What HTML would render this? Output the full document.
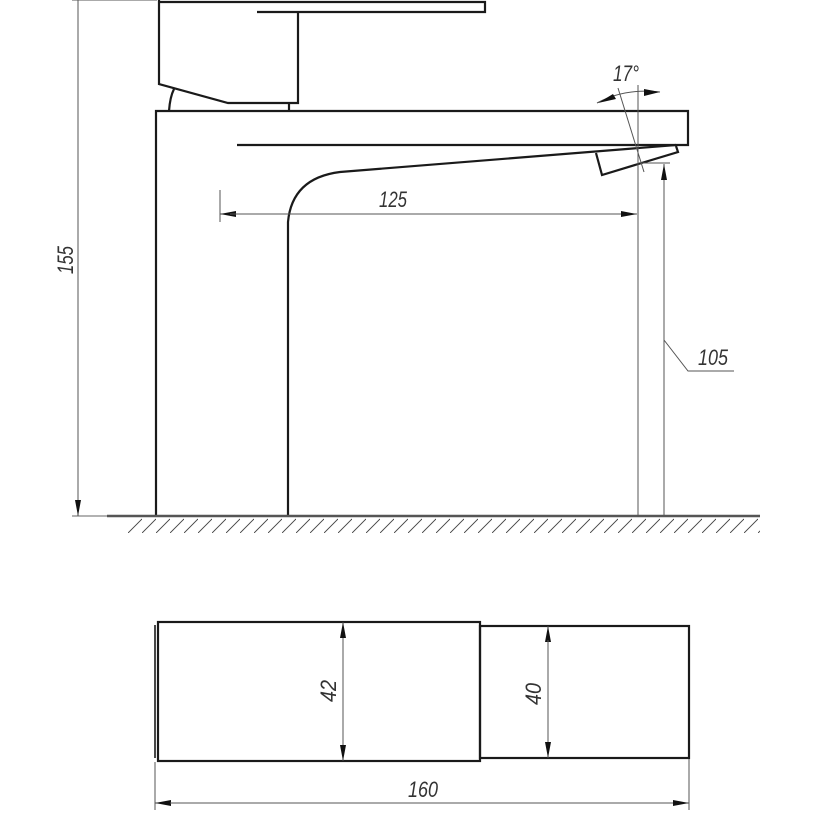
<!DOCTYPE html>
<html><head><style>html,body{margin:0;padding:0;background:#fff}svg{display:block}</style></head>
<body>
<svg width="813" height="813" viewBox="0 0 813 813" xmlns="http://www.w3.org/2000/svg">
<defs>
<marker id="a" viewBox="0 0 16 6" refX="16" refY="3" markerWidth="16" markerHeight="6" orient="auto" markerUnits="userSpaceOnUse"><path d="M0,0 L16,3 L0,6 Z" fill="#111"/></marker>
<pattern id="h" width="14" height="16" patternUnits="userSpaceOnUse" x="128" y="518"><line x1="0" y1="15" x2="14" y2="1" stroke="#444" stroke-width="0.9"/></pattern>
</defs>
<g fill="none" stroke="#1a1a1a" stroke-width="2.2" stroke-linejoin="miter">
<path d="M159,0 L159,84 L228,103 L298,103 L298,12"/>
<path d="M159,2 L485,2 L485,12 L257,12"/>
<path d="M169,111 Q170,97 174,89"/>
<line x1="289" y1="103" x2="289" y2="111"/>
<path d="M156,516 L156,111 L688,111 L688,145 L237,145"/>
<path d="M288,516 L288,222 Q292,178 340,172 L676,145"/>
<path d="M596,153 L602,175 L678,152 L676,146"/>
<rect x="158" y="622" width="322" height="139"/>
<rect x="480" y="626" width="209" height="132"/>
<line x1="155" y1="625" x2="155" y2="758" stroke-width="1.6"/>
</g>
<line x1="72" y1="516" x2="107" y2="516" stroke="#666" stroke-width="1"/>
<line x1="107" y1="516" x2="760" y2="516" stroke="#555" stroke-width="2.5"/>
<rect x="128" y="518" width="632" height="15" fill="url(#h)"/>
<g stroke="#555" stroke-width="1" fill="none">
<line x1="72" y1="0" x2="157" y2="0"/>
<line x1="78" y1="0" x2="78" y2="516" marker-end="url(#a)"/>
<line x1="220" y1="190" x2="220" y2="222"/>
<line x1="238" y1="214" x2="220" y2="214" marker-end="url(#a)"/>
<line x1="230" y1="214" x2="637" y2="214" marker-end="url(#a)"/>
<line x1="638" y1="85" x2="638" y2="516"/>
<line x1="618" y1="88" x2="644" y2="172"/>
<path d="M597,103 Q625,88 660,92"/>
<path d="M598,103 L613,94 L616,99 Z" fill="#111" stroke="none"/>
<path d="M644,89 L660,92 L644,96 Z" fill="#111" stroke="none"/>
<line x1="640" y1="163" x2="670" y2="163"/>
<line x1="664" y1="516" x2="664" y2="164" marker-end="url(#a)"/>
<path d="M664,340 L688,371 L734,371"/>
<line x1="343" y1="761" x2="343" y2="622" marker-end="url(#a)"/>
<line x1="343" y1="640" x2="343" y2="761" marker-end="url(#a)"/>
<line x1="548" y1="758" x2="548" y2="626" marker-end="url(#a)"/>
<line x1="548" y1="640" x2="548" y2="758" marker-end="url(#a)"/>
<line x1="155" y1="762" x2="155" y2="810"/>
<line x1="689" y1="759" x2="689" y2="810"/>
<line x1="689" y1="803" x2="155" y2="803" marker-end="url(#a)"/>
<line x1="170" y1="803" x2="689" y2="803" marker-end="url(#a)"/>
</g>
<g font-family="Liberation Sans, sans-serif" font-style="italic" font-size="22" fill="#333">
<text x="379" y="207" textLength="28" lengthAdjust="spacingAndGlyphs">125</text>
<text x="613" y="81" textLength="26" lengthAdjust="spacingAndGlyphs">17°</text>
<text x="698" y="365" textLength="30" lengthAdjust="spacingAndGlyphs">105</text>
<text x="408" y="797" textLength="30" lengthAdjust="spacingAndGlyphs">160</text>
<text transform="translate(73,274) rotate(-90)" textLength="28" lengthAdjust="spacingAndGlyphs">155</text>
<text transform="translate(336,702) rotate(-90)" textLength="22" lengthAdjust="spacingAndGlyphs">42</text>
<text transform="translate(541,705) rotate(-90)" textLength="22" lengthAdjust="spacingAndGlyphs">40</text>
</g>
</svg>
</body></html>
